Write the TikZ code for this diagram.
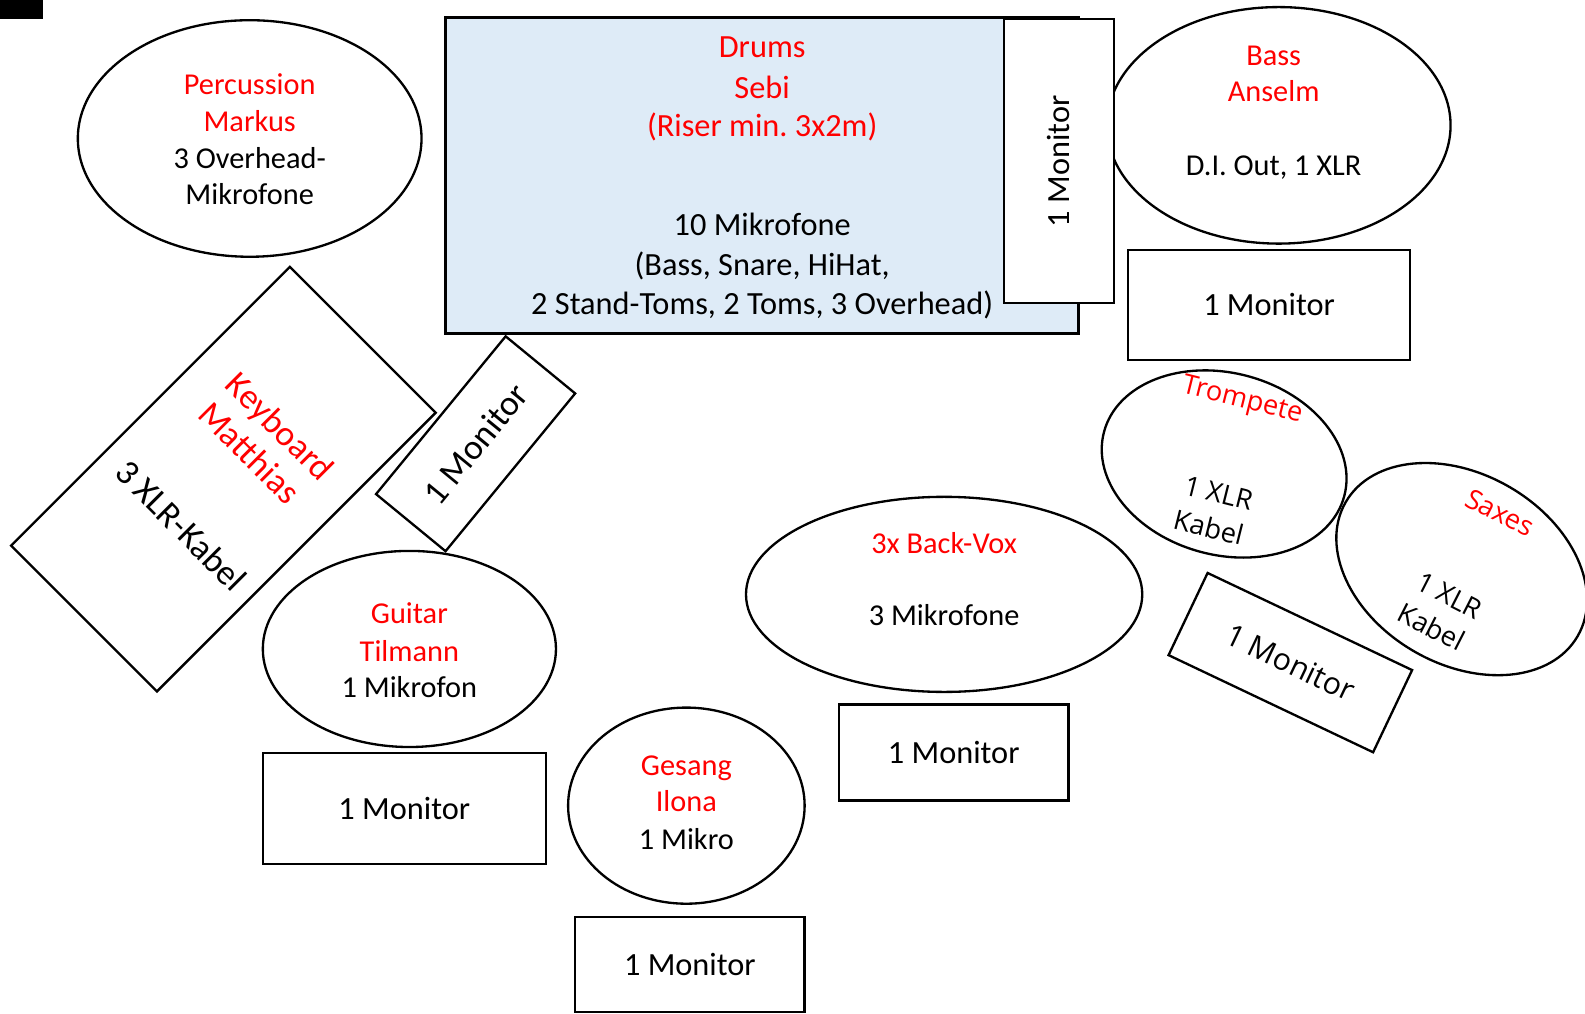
\documentclass[tikz,border=0pt]{standalone}
\usepackage{fontspec}
\setmainfont{Carlito}
\newfontfamily\osans{Open Sans}
\usetikzlibrary{shapes.geometric}
\definecolor{tred}{RGB}{255,0,0}
\definecolor{riser}{RGB}{222,235,247}
\frenchspacing
\begin{document}
\begin{tikzpicture}[x=1pt,y=-1pt,
  shp/.style={draw=black, line width=2.3pt},
  box/.style={shp, rectangle, inner sep=0pt},
  oval/.style={shp, ellipse, inner sep=0pt},
  ln/.style={inner sep=0pt, text height=0.64em, text depth=0pt, anchor=center},
  lnh/.style={ln, yshift=-7pt},
  fA/.style={font=\fontsize{32}{38}\selectfont},
  fB/.style={font=\fontsize{30}{36}\selectfont},
  fK/.style={font=\fontsize{35}{42}\selectfont},
  fS/.style={font=\osans\fontsize{27}{32}\selectfont},
  fM/.style={font=\osans\fontsize{30}{36}\selectfont},
  hl/.style={text=tred}]
\useasboundingbox (0,0) rectangle (1568,1003);
\fill[white] (0,0) rectangle (1568,1003);

% black mark
\node[fill=black, minimum width=42pt, minimum height=19pt, inner sep=0pt, anchor=north west] (blk) at (0,0) {};

% Percussion
\node[oval, minimum width=340pt, minimum height=234pt] (percE) at (247,137) {};
\node[lnh, fB, hl] (perc1) at (247,83) {Percussion};
\node[lnh, fB, hl] (perc2) at (247,120) {Markus};
\node[lnh, fB] (perc3) at (247,156) {3 Overhead-};
\node[lnh, fB] (perc4) at (247,192) {Mikrofone};

% Bass
\node[oval, minimum width=340pt, minimum height=234pt] (bassE) at (1265,124) {};
\node[lnh, fB, hl] (bass1) at (1260,55) {Bass};
\node[lnh, fB, hl] (bass2) at (1260,90) {Anselm};
\node[lnh, fB] (bass3) at (1260,163) {D.I. Out, 1 XLR};
\node[box, fA, minimum width=279pt, minimum height=109pt] (monBass) at (1255.5,301.5) {1 Monitor};

% Drums
\node[box, line width=3pt, fill=riser, minimum width=626pt, minimum height=313pt] (drums) at (754,173.5) {};
\node[lnh, fA, hl] (dr1) at (754,47) {Drums};
\node[lnh, fA, hl] (dr2) at (754,87) {Sebi};
\node[lnh, fA, hl] (dr3) at (754,125) {(Riser min. 3x2m)};
\node[lnh, fA] (dr4) at (754,223) {10 Mikrofone};
\node[lnh, fA] (dr5) at (754,262) {(Bass, Snare, HiHat,};
\node[lnh, fA] (dr6) at (754,301) {2 Stand-Toms, 2 Toms, 3 Overhead)};
\node[box, fill=white, fA, minimum width=281pt, minimum height=109pt, rotate=90] (monDrums) at (1047.5,159.5) {1 Monitor};

% Keyboard
\node[box, minimum width=204pt, minimum height=390pt, rotate=-45] (kbd) at (221,474) {};
\node[ln, fK, hl, rotate=-45] (kbd1) at (271,428) {Keyboard};
\node[ln, fK, hl, rotate=-45] (kbd2) at (241,454) {Matthias};
\node[ln, fK, rotate=-45] (kbd3) at (173,526) {3 XLR-Kabel};
\node[box, fK, minimum width=202pt, minimum height=89pt, rotate=50.6] (monKbd) at (470.5,439) {1 Monitor};

% Guitar
\node[oval, minimum width=290pt, minimum height=194pt] (gitE) at (405,642) {};
\node[lnh, fB, hl] (git1) at (405,607) {Guitar};
\node[lnh, fB, hl] (git2) at (405,644) {Tilmann};
\node[lnh, fB] (git3) at (405,680) {1 Mikrofon};
\node[box, fA, minimum width=280pt, minimum height=110pt] (monGit) at (400,800) {1 Monitor};

% Gesang
\node[oval, minimum width=234pt, minimum height=194pt] (gesE) at (679,797) {};
\node[lnh, fB, hl] (ges1) at (679,757) {Gesang};
\node[lnh, fB, hl] (ges2) at (679,793) {Ilona};
\node[lnh, fB] (ges3) at (679,830) {1 Mikro};
\node[box, fA, minimum width=227pt, minimum height=94pt] (monGes) at (682.5,954) {1 Monitor};

% Back-Vox
\node[oval, minimum width=392pt, minimum height=193pt] (voxE) at (934,588) {};
\node[lnh, fB, hl] (vox1) at (934,537) {3x Back-Vox};
\node[lnh, fB] (vox2) at (934,609) {3 Mikrofone};
\node[box, fA, minimum width=227pt, minimum height=95pt] (monVox) at (943.5,744.5) {1 Monitor};

% Trompete
\node[oval, minimum width=246pt, minimum height=180pt, rotate=-15] (trpE) at (1211,459) {};
\node[ln, fS, hl, rotate=-14] (trp1) at (1228,400) {Trompete};
\node[ln, fS, rotate=-14] (trp2) at (1204,494) {1 XLR};
\node[ln, fS, rotate=-14] (trp3) at (1194,528) {Kabel};

% Saxes
\node[oval, minimum width=265pt, minimum height=188pt, rotate=-30] (saxE) at (1446,563) {};
\node[ln, fS, hl, rotate=-27] (sax1) at (1481,513) {Saxes};
\node[ln, fS, rotate=-27] (sax2) at (1431,595) {1 XLR};
\node[ln, fS, rotate=-27] (sax3) at (1413,626) {Kabel};

\node[box, fM, minimum width=224pt, minimum height=90pt, rotate=-25.4] (monWind) at (1276.5,655.5) {1 Monitor};
\end{tikzpicture}
\end{document}
